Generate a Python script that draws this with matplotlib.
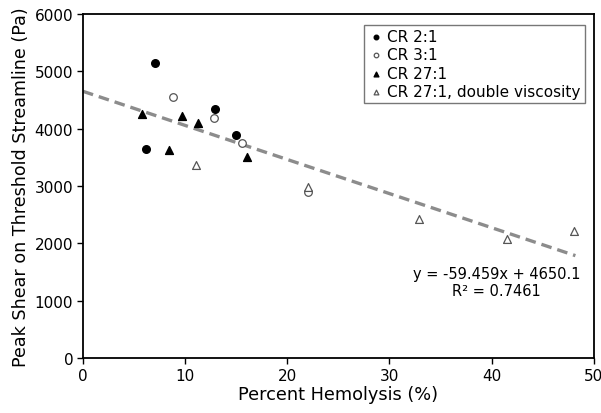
import matplotlib.pyplot as plt
import numpy as np

# data
cr2_x = [7.1, 6.2, 12.9, 15.0]
cr2_y = [5150, 3650, 4350, 3880]

cr3_x = [8.8, 12.8, 15.6, 22.0]
cr3_y = [4550, 4180, 3740, 2900]

cr27_x = [5.8, 9.7, 11.3, 8.4, 16.1]
cr27_y = [4260, 4220, 4090, 3630, 3510]

cr27dv_x = [11.1, 22.0, 32.9, 41.5, 48.1]
cr27dv_y = [3370, 2980, 2430, 2070, 2210]

slope = -59.459
intercept = 4650.1
fit_x = [0, 48.2]

fig = plt.figure(figsize=(6.01, 4.14), dpi=100)
ax = fig.add_axes([0.138, 0.133, 0.85, 0.831])

fx = np.array(fit_x)
ax.plot(fx, slope * fx + intercept, color='#8c8c8c', lw=2.4, ls=(0, (3.2, 1.8)), zorder=1)

ax.scatter(cr2_x, cr2_y, s=30, c='black', marker='o', label='CR 2:1', zorder=3)
ax.scatter(cr3_x, cr3_y, s=30, facecolors='white', edgecolors='#555555', marker='o',
           linewidths=0.9, label='CR 3:1', zorder=3)
ax.scatter(cr27_x, cr27_y, s=32, c='black', marker='^', label='CR 27:1', zorder=3)
ax.scatter(cr27dv_x, cr27dv_y, s=32, facecolors='white', edgecolors='#555555', marker='^',
           linewidths=0.9, label='CR 27:1, double viscosity', zorder=3)

ax.set_xlim(0, 50)
ax.set_ylim(0, 6000)
ax.set_xticks(range(0, 51, 10))
ax.set_yticks(range(0, 6001, 1000))
ax.tick_params(direction='out', length=4, width=1, labelsize=11, colors='black', pad=3)
for sp in ax.spines.values():
    sp.set_linewidth(1.3)

ax.set_xlabel('Percent Hemolysis (%)', fontsize=12.8, labelpad=2)
ax.set_ylabel('Peak Shear on Threshold Streamline (Pa)', fontsize=12.6, labelpad=3)

ax.text(40.5, 1320, 'y = -59.459x + 4650.1\nR² = 0.7461', fontsize=10.5,
        ha='center', va='center', linespacing=1.15)

leg = ax.legend(loc='upper right', bbox_to_anchor=(0.982, 0.967), fontsize=11,
                frameon=True, fancybox=False, edgecolor='#555555', handletextpad=0.25,
                borderpad=0.25, labelspacing=0.22, handlelength=1.0, markerscale=0.6,
                borderaxespad=0)
leg.get_frame().set_linewidth(1.0)

fig.savefig('out.png', dpi=100)
